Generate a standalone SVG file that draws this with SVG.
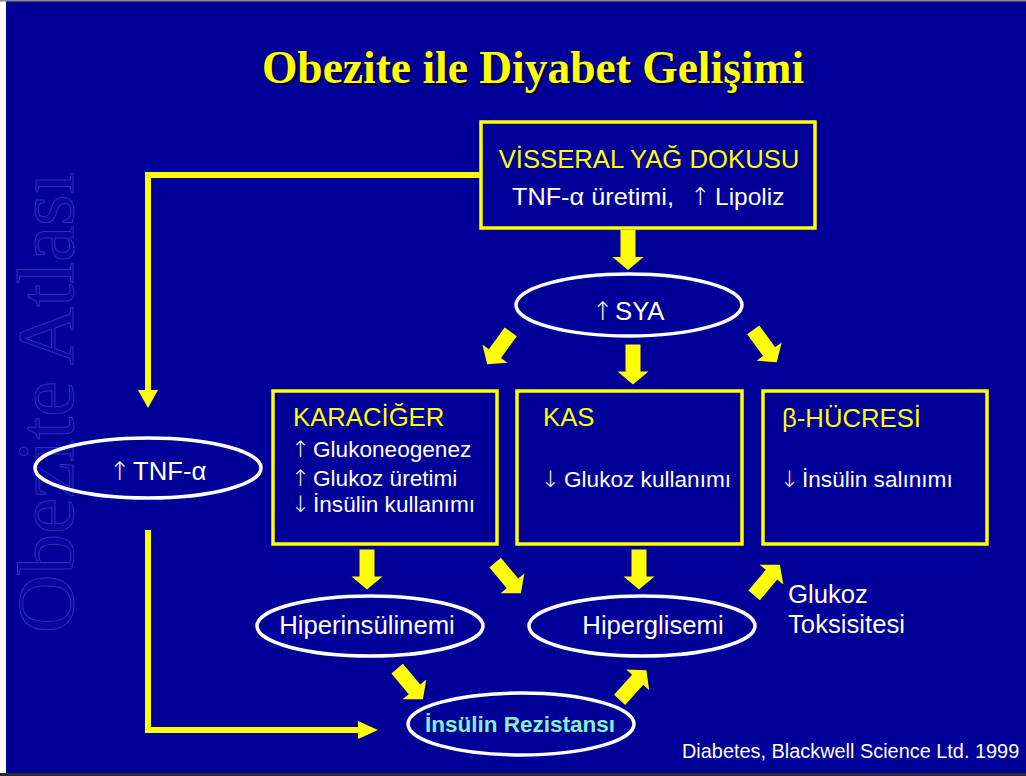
<svg xmlns="http://www.w3.org/2000/svg" xmlns:xlink="http://www.w3.org/1999/xlink" width="1026" height="776" viewBox="0 0 1026 776">
<style>
.box{fill:none;stroke:#FFFF00;stroke-width:3.5}
.ell{fill:none;stroke:#FFFFFF;stroke-width:3.5}
.t{font-family:"Liberation Sans",Arial,sans-serif;fill:#FFFFFF}
.y{fill:#FFFF00}
.h{font-size:25.7px}
.s{font-size:22.6px}
.ar{font-family:"DejaVu Sans",sans-serif;font-weight:200;fill:#FFFFFF}
.line{fill:none;stroke:#FFFF00;stroke-width:6}
.ba{fill:#FFFF00}
</style>
<defs>
<path id="ba" d="M-7.5,-20 H7.5 V7 H15.5 L0,20 L-15.5,7 H-7.5 Z"/>
</defs>
<rect x="0" y="0" width="1026" height="776" fill="#000099"/>
<rect x="0" y="0" width="6" height="776" fill="#FFFFFF"/>
<rect x="0" y="0" width="1026" height="1.5" fill="#8A8A8A"/>
<rect x="0" y="773" width="1026" height="3" fill="#2A2A2A"/>

<g id="watermark">
<text transform="translate(73,633) rotate(-90)" font-family="'Liberation Serif','Times New Roman',serif" font-size="81" fill="#0606A0" stroke="#3030B8" stroke-width="1">Obezite Atlası</text>
</g>

<g id="title">
<text x="535" y="85" text-anchor="middle" font-family="'Liberation Serif','Times New Roman',serif" font-weight="bold" font-size="45.5" fill="#000033">Obezite ile Diyabet Gelişimi</text>
<text x="533" y="83" text-anchor="middle" font-family="'Liberation Serif','Times New Roman',serif" font-weight="bold" font-size="45.5" fill="#FFFF00">Obezite ile Diyabet Gelişimi</text>
</g>

<g id="connectors">
<polyline class="line" points="481,175 148,175 148,392"/>
<polygon class="ba" points="138,390 158,390 148,408"/>
<polyline class="line" points="148,530 148,730 360,730"/>
<polygon class="ba" points="358,721 358,739 378,730"/>
<use href="#ba" class="ba" transform="translate(628,250)"/>
<use href="#ba" class="ba" transform="translate(499,348) rotate(36)"/>
<use href="#ba" class="ba" transform="translate(633,364.5)"/>
<use href="#ba" class="ba" transform="translate(765,346) rotate(-36)"/>
<use href="#ba" class="ba" transform="translate(367,569.5)"/>
<use href="#ba" class="ba" transform="translate(508,578) rotate(-40)"/>
<use href="#ba" class="ba" transform="translate(639,569.5)"/>
<use href="#ba" class="ba" transform="translate(410,684) rotate(-40)"/>
<use href="#ba" class="ba" transform="translate(633,685) rotate(-138)"/>
<use href="#ba" class="ba" transform="translate(767,580) rotate(-140)"/>
</g>

<g id="visseral">
<rect class="box" x="481" y="122" width="334" height="106"/>
<text class="t y h" x="649" y="168" text-anchor="middle">VİSSERAL YAĞ DOKUSU</text>
<text class="t" y="205" font-size="24.5"><tspan x="512" textLength="162" lengthAdjust="spacingAndGlyphs">TNF-α üretimi,</tspan><tspan class="ar" x="690">↑</tspan><tspan x="715">Lipoliz</tspan></text>
</g>

<g id="sya">
<ellipse class="ell" cx="629" cy="305" rx="113" ry="31"/>
<text class="t h" y="320"><tspan class="ar" x="592">↑</tspan><tspan x="615">SYA</tspan></text>
</g>

<g id="tnf">
<ellipse class="ell" cx="148" cy="468" rx="113" ry="30"/>
<text class="t h" y="480"><tspan class="ar" x="109">↑</tspan><tspan x="133">TNF-α</tspan></text>
</g>

<g id="karaciger">
<rect class="box" x="273" y="391" width="224" height="153"/>
<text class="t y h" x="293" y="426">KARACİĞER</text>
<text class="t s" y="457"><tspan class="ar" x="291">↑</tspan><tspan x="313">Glukoneogenez</tspan></text>
<text class="t s" y="486"><tspan class="ar" x="291">↑</tspan><tspan x="313">Glukoz üretimi</tspan></text>
<text class="t s" y="512"><tspan class="ar" x="291">↓</tspan><tspan x="313">İnsülin kullanımı</tspan></text>
</g>

<g id="kas">
<rect class="box" x="517" y="391" width="225" height="153"/>
<text class="t y h" x="543" y="426">KAS</text>
<text class="t s" y="487"><tspan class="ar" x="541">↓</tspan><tspan x="564">Glukoz kullanımı</tspan></text>
</g>

<g id="beta">
<rect class="box" x="763" y="391" width="224" height="153"/>
<text class="t y h" x="782" y="427">β-HÜCRESİ</text>
<text class="t s" y="487"><tspan class="ar" x="780">↓</tspan><tspan x="802">İnsülin salınımı</tspan></text>
</g>

<g id="hiperinsulinemi">
<ellipse class="ell" cx="370" cy="626" rx="113" ry="30"/>
<text class="t h" x="367" y="634" text-anchor="middle">Hiperinsülinemi</text>
</g>

<g id="hiperglisemi">
<ellipse class="ell" cx="642" cy="626" rx="113" ry="30"/>
<text class="t h" x="653" y="634" text-anchor="middle">Hiperglisemi</text>
</g>

<g id="insulin-rezistansi">
<ellipse class="ell" cx="521" cy="724" rx="113" ry="31"/>
<text x="520" y="732" text-anchor="middle" font-family="'Liberation Sans',Arial,sans-serif" font-weight="bold" font-size="22.5" fill="#88F0C8">İnsülin Rezistansı</text>
</g>

<g id="glukoz-toksisitesi">
<text class="t h" x="788" y="603">Glukoz</text>
<text class="t h" x="788" y="633">Toksisitesi</text>
</g>

<g id="source">
<text class="t" x="682" y="758" font-size="19.9">Diabetes, Blackwell Science Ltd. 1999</text>
</g>
</svg>
